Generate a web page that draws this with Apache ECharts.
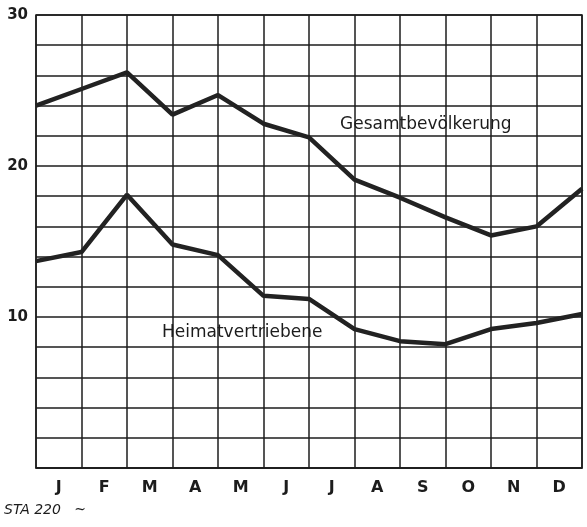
<!DOCTYPE html>
<html>
<head>
<meta charset="utf-8">
<script src="https://cdn.jsdelivr.net/npm/echarts@6/dist/echarts.min.js"></script>
<style>
  html, body { margin: 0; padding: 0; background: #fff; }
  #main { width: 587px; height: 527px; }
</style>
</head>
<body>
<div id="main"></div>
<script>
// Monatsbuchstaben (Beschriftung zwischen den Gitterlinien)
var months = ['J', 'F', 'M', 'A', 'M', 'J', 'J', 'A', 'S', 'O', 'N', 'D'];
// Stützstellen auf den Gitterlinien (13 Stück)
var points = ['0', '1', '2', '3', '4', '5', '6', '7', '8', '9', '10', '11', '12'];
var gesamt = [24.0, 25.1, 26.2, 23.4, 24.7, 22.8, 21.9, 19.1, 17.9, 16.6, 15.4, 16.0, 18.5];
var heimat = [13.7, 14.3, 18.1, 14.8, 14.1, 11.4, 11.2, 9.2, 8.4, 8.2, 9.2, 9.6, 10.2];

var myChart = echarts.init(document.getElementById('main'));

var ink = '#1c1c1c';
var fontFam = '"DejaVu Sans", sans-serif';

option = {
    backgroundColor: '#fff',
    animation: false,
    grid: {
        left: 36, right: 5, top: 15, bottom: 59,
        show: true,
        borderColor: ink,
        borderWidth: 1.5
    },
    xAxis: [{
        type: 'category',
        data: months,
        boundaryGap: true,
        axisLine: { lineStyle: { color: ink, width: 1.5 } },
        axisTick: { show: false },
        axisLabel: { color: ink, fontFamily: fontFam, fontSize: 16, fontWeight: 'bold', margin: 12 },
        splitLine: { show: true, lineStyle: { color: ink, width: 1.5 } }
    }, {
        type: 'category',
        data: points,
        boundaryGap: false,
        show: false
    }],
    yAxis: {
        type: 'value',
        min: 0,
        max: 30,
        interval: 2,
        axisLine: { show: false },
        axisTick: { show: false },
        axisLabel: {
            color: ink,
            fontFamily: fontFam,
            fontSize: 15,
            fontWeight: 'bold',
            margin: 8,
            formatter: function (v) { return v % 10 === 0 && v > 0 ? v : ''; }
        },
        splitLine: { lineStyle: { color: ink, width: 1.5 } }
    },
    series: [{
        name: 'Gesamtbevölkerung',
        type: 'line',
        xAxisIndex: 1,
        data: gesamt,
        symbol: 'none',
        lineStyle: { color: '#222', width: 4.5 }
    }, {
        name: 'Heimatvertriebene',
        type: 'line',
        xAxisIndex: 1,
        data: heimat,
        symbol: 'none',
        lineStyle: { color: '#222', width: 4.5 }
    }],
    graphic: [{
        type: 'text', left: 340, top: 116,
        style: { text: 'Gesamtbevölkerung', fill: ink, font: '17px "DejaVu Sans", sans-serif' }
    }, {
        type: 'text', left: 162, top: 324,
        style: { text: 'Heimatvertriebene', fill: ink, font: '17px "DejaVu Sans", sans-serif' }
    }, {
        type: 'text', left: 4, top: 503,
        style: { text: 'STA 220   ~', fill: ink, font: 'italic 14px "DejaVu Sans", sans-serif' }
    }]
};

myChart.setOption(option);
</script>
</body>
</html>
